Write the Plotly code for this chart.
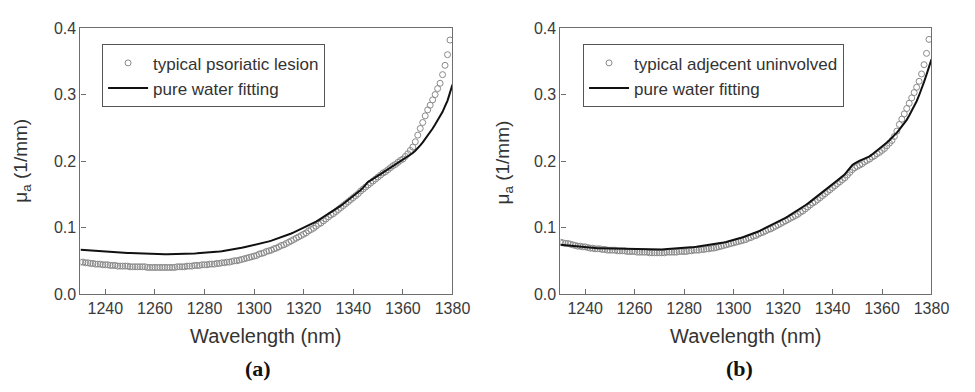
import plotly.graph_objects as go

# ---------------- data ----------------
wl_pts = list(range(1230, 1380))   # 1230..1379 nm (measured points)
wl_fit = list(range(1230, 1381))   # 1230..1380 nm (fit line)

lesion_pts = [
    .048, .048, .047, .047, .046, .046, .045, .045, .045, .044,
    .044, .044, .043, .043, .043, .042, .042, .042, .042, .042,
    .041, .041, .041, .041, .041, .041, .041, .040, .040, .040,
    .040, .040, .040, .040, .040, .040, .040, .040, .040, .041,
    .041, .041, .041, .042, .042, .042, .043, .043, .043, .044,
    .044, .044, .045, .045, .045, .046, .046, .047, .047, .048,
    .048, .049, .050, .050, .051, .052, .053, .054, .055, .056,
    .057, .058, .060, .061, .062, .064, .065, .066, .068, .069,
    .071, .073, .074, .076, .078, .080, .082, .084, .086, .088,
    .090, .092, .095, .097, .099, .102, .105, .107, .110, .113,
    .116, .119, .121, .124, .127, .130, .133, .136, .139, .142,
    .145, .148, .151, .155, .158, .161, .164, .167, .170, .173,
    .176, .179, .182, .184, .187, .190, .193, .195, .198, .201,
    .203, .207, .211, .216, .221, .229, .239, .249, .258, .268,
    .277, .284, .292, .300, .309, .317, .330, .344, .360, .382,
]

lesion_fit = [
    .0665, .0662, .0659, .0656, .0653, .0650, .0647, .0644, .0641, .0638,
    .0635, .0633, .0631, .0629, .0627, .0625, .0624, .0622, .0621, .0619,
    .0618, .0616, .0615, .0613, .0612, .0610, .0608, .0607, .0605, .0604,
    .0602, .0601, .0601, .0600, .0600, .0600, .0600, .0600, .0600, .0600,
    .0600, .0601, .0603, .0604, .0606, .0608, .0610, .0612, .0614, .0616,
    .0618, .0621, .0624, .0628, .0631, .0635, .0640, .0645, .0650, .0655,
    .0660, .0667, .0674, .0681, .0688, .0695, .0703, .0711, .0719, .0727,
    .0735, .0744, .0753, .0762, .0771, .0780, .0792, .0804, .0816, .0828,
    .0840, .0854, .0868, .0882, .0896, .0910, .0927, .0944, .0961, .0978,
    .0995, .1014, .1033, .1052, .1071, .1090, .1113, .1136, .1159, .1182,
    .1205, .1230, .1255, .1280, .1305, .1330, .1358, .1386, .1414, .1442,
    .1470, .1502, .1534, .1566, .1600, .1650, .1690, .1710, .1730, .1750,
    .1780, .1804, .1828, .1852, .1876, .1900, .1924, .1948, .1972, .1996,
    .2020, .2045, .2070, .2095, .2120, .2155, .2190, .2235, .2280, .2330,
    .2380, .2435, .2490, .2550, .2610, .2675, .2740, .2825, .2910, .3030,
    .3150,
]

uninv_pts = [
    .078, .077, .076, .076, .075, .074, .073, .072, .072, .071,
    .071, .070, .069, .069, .068, .068, .068, .067, .067, .066,
    .066, .066, .066, .065, .065, .065, .065, .064, .064, .064,
    .064, .063, .063, .063, .063, .063, .062, .062, .062, .062,
    .062, .062, .062, .063, .063, .063, .063, .063, .064, .064,
    .064, .064, .065, .065, .066, .066, .066, .067, .067, .068,
    .068, .069, .069, .070, .071, .072, .073, .074, .075, .076,
    .077, .078, .079, .080, .081, .082, .084, .085, .087, .088,
    .090, .092, .093, .095, .097, .098, .100, .102, .104, .106,
    .108, .110, .112, .114, .116, .118, .120, .123, .125, .128,
    .131, .134, .137, .139, .142, .145, .148, .151, .154, .157,
    .160, .163, .166, .169, .172, .175, .179, .183, .187, .190,
    .192, .194, .196, .199, .201, .203, .206, .208, .211, .213,
    .216, .219, .223, .227, .231, .237, .245, .255, .263, .271,
    .279, .287, .295, .303, .311, .320, .331, .345, .362, .383,
]

uninv_fit = [
    .0740, .0736, .0732, .0728, .0724, .0720, .0718, .0716, .0714, .0712,
    .0710, .0706, .0702, .0698, .0694, .0690, .0689, .0688, .0687, .0686,
    .0685, .0684, .0683, .0682, .0681, .0680, .0678, .0677, .0675, .0674,
    .0672, .0672, .0671, .0671, .0670, .0670, .0670, .0669, .0669, .0668,
    .0668, .0670, .0673, .0675, .0678, .0680, .0682, .0685, .0687, .0690,
    .0692, .0696, .0699, .0703, .0706, .0710, .0715, .0720, .0725, .0730,
    .0735, .0741, .0747, .0753, .0759, .0765, .0774, .0783, .0792, .0801,
    .0810, .0822, .0834, .0846, .0858, .0870, .0884, .0898, .0912, .0926,
    .0940, .0958, .0976, .0994, .1012, .1030, .1049, .1068, .1087, .1106,
    .1125, .1147, .1169, .1191, .1213, .1235, .1260, .1285, .1310, .1335,
    .1360, .1388, .1416, .1444, .1472, .1500, .1530, .1560, .1590, .1620,
    .1650, .1680, .1710, .1740, .1770, .1800, .1850, .1900, .1940, .1965,
    .1990, .2006, .2022, .2038, .2054, .2070, .2098, .2126, .2154, .2182,
    .2210, .2244, .2278, .2312, .2346, .2380, .2427, .2473, .2520, .2570,
    .2620, .2685, .2750, .2825, .2900, .2990, .3080, .3190, .3300, .3415,
    .3530,
]

x_ticks = [1240, 1260, 1280, 1300, 1320, 1340, 1360, 1380]
y_ticks = [0.0, 0.1, 0.2, 0.3, 0.4]

# ---------------- figure ----------------
W, H = 975, 392
SANS = "Liberation Sans, Arial, sans-serif"
SERIF = "Liberation Serif, Times New Roman, serif"
AX = "#6e6e6e"
PT = "#8a8a8a"

fig = go.Figure()

fig.add_trace(go.Scatter(x=wl_pts, y=lesion_pts, mode="markers",
                         name="typical psoriatic lesion",
                         marker=dict(symbol="circle-open", size=6, color=PT, line=dict(width=1)),
                         xaxis="x", yaxis="y", legend="legend"))
fig.add_trace(go.Scatter(x=wl_fit, y=lesion_fit, mode="lines",
                         name="pure water fitting",
                         line=dict(color="#111111", width=2),
                         xaxis="x", yaxis="y", legend="legend"))
fig.add_trace(go.Scatter(x=wl_pts, y=uninv_pts, mode="markers",
                         name="typical adjecent uninvolved",
                         marker=dict(symbol="circle-open", size=6, color=PT, line=dict(width=1)),
                         xaxis="x2", yaxis="y2", legend="legend2"))
fig.add_trace(go.Scatter(x=wl_fit, y=uninv_fit, mode="lines",
                         name="pure water fitting",
                         line=dict(color="#111111", width=2),
                         xaxis="x2", yaxis="y2", legend="legend2"))

ydom = [1 - 299 / H, 1 - 21 / H]

def xaxis(dom, anchor):
    return dict(domain=dom, anchor=anchor, range=[1230, 1380], tickvals=x_ticks,
                ticks="inside", ticklen=5, tickcolor=AX, showline=True, linecolor=AX,
                linewidth=1.2, mirror=True, showgrid=False, zeroline=False,
                tickfont=dict(family=SANS, size=16, color="#3a3a3a"))

def yaxis(anchor):
    return dict(domain=ydom, anchor=anchor, range=[0, 0.4], tickvals=y_ticks,
                tickformat=".1f", ticks="inside", ticklen=5, tickcolor=AX,
                showline=True, linecolor=AX, linewidth=1.2, mirror=True,
                showgrid=False, zeroline=False,
                tickfont=dict(family=SANS, size=16, color="#3a3a3a"))

def legend(xpx, ypx):
    return dict(x=xpx / W, y=1 - ypx / H, xanchor="left", yanchor="top",
                bgcolor="white", bordercolor="#555555", borderwidth=1,
                font=dict(family=SANS, size=17, color="#333333"),
                tracegroupgap=0, itemwidth=40)

fig.update_layout(
    width=W, height=H,
    margin=dict(l=0, r=0, t=0, b=0),
    paper_bgcolor="white", plot_bgcolor="white",
    showlegend=True,
    xaxis=xaxis([82 / W, 461 / W], "y"),
    yaxis=yaxis("x"),
    xaxis2=xaxis([571 / W, 949 / W], "y2"),
    yaxis2=yaxis("x2"),
    legend=legend(104, 38),
    legend2=legend(594, 38),
)

annots = [
    dict(x=271 / W, y=1 - 343 / H, text="Wavelength (nm)", font=dict(family=SANS, size=20, color="#333333")),
    dict(x=760 / W, y=1 - 343 / H, text="Wavelength (nm)", font=dict(family=SANS, size=20, color="#333333")),
    dict(x=22 / W, y=1 - 160 / H, text="μ<sub>a</sub> (1/mm)", textangle=-90,
         font=dict(family=SANS, size=19, color="#333333")),
    dict(x=513 / W, y=1 - 162 / H, text="μ<sub>a</sub> (1/mm)", textangle=-90,
         font=dict(family=SANS, size=19, color="#333333")),
    dict(x=263 / W, y=1 - 377 / H, text="<b>(a)</b>", font=dict(family=SERIF, size=22, color="#111111")),
    dict(x=753 / W, y=1 - 377 / H, text="<b>(b)</b>", font=dict(family=SERIF, size=22, color="#111111")),
]
for a in annots:
    fig.add_annotation(xref="paper", yref="paper", showarrow=False,
                       xanchor="center", yanchor="middle", **a)

fig.write_html("out.html")
